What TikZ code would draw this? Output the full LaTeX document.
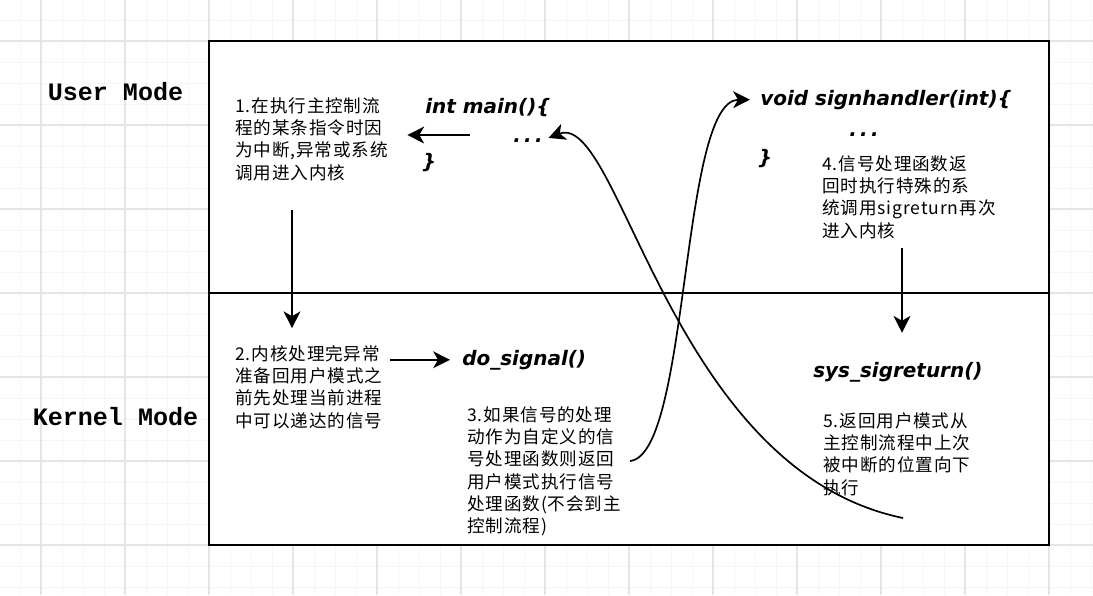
\documentclass[tikz,border=0pt]{standalone}
\usepackage{fontspec}
\usepackage{tikz}
\usetikzlibrary{arrows.meta}
\newfontfamily\cjk[LetterSpace=5]{Noto Sans CJK SC}
\newfontfamily\codefont{DejaVu Sans}
\newfontfamily\modefont{Liberation Mono}

\begin{document}
\begin{tikzpicture}[x=0.025cm, y=-0.025cm,
    note/.style={anchor=north west, inner sep=0pt, align=left,
        font=\cjk\fontsize{12.5pt}{15.9pt}\selectfont},
    code/.style={anchor=base west, inner sep=0pt,
        font=\codefont\bfseries\itshape\fontsize{14.2pt}{17pt}\selectfont},
    mode/.style={anchor=base, inner sep=0pt,
        font=\modefont\bfseries\fontsize{17.8pt}{20pt}\selectfont},
    arr/.style={-{Stealth[length=0.42cm, width=0.42cm, inset=0.12cm]}, line width=1.2pt},
    minorgrid/.style={draw=black!4, line width=0.6pt},
    majorgrid/.style={draw=black!10, line width=0.8pt}]
            \useasboundingbox (0,0) rectangle (1093,595);
            \foreach \x in {20,41,...,1092} \draw[minorgrid] (\x,0) -- (\x,595);
            \foreach \y in {20,41,...,594} \draw[minorgrid] (0,\y) -- (1093,\y);
            \foreach \x in {41,125,...,1093} \draw[majorgrid] (\x,0) -- (\x,595);
            \foreach \y in {41,125,...,594} \draw[majorgrid] (0,\y) -- (1093,\y);

            \draw[line width=1.5pt, fill=white] (209,41) rectangle (1049,545);
            \draw[line width=1.5pt] (209,293) -- (1049,293);

            \node[mode] (U) at (115.5,100) {User Mode};
            \node[mode] (K) at (115.5,425) {Kernel Mode};

            \node[note] (T1) at (235,97) {1.在执行主控制流\\程的某条指令时因\\为中断,异常或系统\\调用进入内核};
            \node[note] (T2) at (235,345) {2.内核处理完异常\\准备回用户模式之\\前先处理当前进程\\中可以递达的信号};
            \node[note] (T3) at (467,406) {3.如果信号的处理\\动作为自定义的信\\号处理函数则返回\\用户模式执行信号\\处理函数(不会到主\\控制流程)};
            \node[note] (T4) at (822,155) {4.信号处理函数返\\回时执行特殊的系\\统调用sigreturn再次\\进入内核};
            \node[note] (T5) at (823,412) {5.返回用户模式从\\主控制流程中上次\\被中断的位置向下\\执行};

            \node[code] (Main) at (425,113) {int main()\{};
            \node[code] (Dots1) at (513,142) {.\,.\,.};
            \node[code, anchor=center] (Close1) at (429,163) {\}};
            \node[code] (Hdl) at (760,105) {void signhandler(int)\{};
            \node[code] (Dots2) at (849,136) {.\,.\,.};
            \node[code, anchor=center] (Close2) at (765,159) {\}};
            \node[code] (Sig) at (462,365) {do\_signal()};
            \node[code] (Ret) at (813,377) {sys\_sigreturn()};

            \coordinate (A1) at (292,210);
            \coordinate (A2) at (470,135);
            \coordinate (A4) at (902,248);
            \coordinate (A3) at (630,461);
            \coordinate (A5) at (903,518);

            \path[arr]
                (A1) edge[shorten >=0.42cm] (A1 |- T2.north)
                (A2) edge[shorten >=0.48cm] (A2 -| T1.east)
                (Sig.west -| T2.east) edge[shorten <=0.2cm, shorten >=0.3cm] (Sig.west)
                (A4) edge[shorten >=0.72cm] (A4 |- Ret.north);
            \draw[arr, shorten >=0.25cm] (A3) .. controls (690,455) and (680,100) .. (Hdl.west);
            \draw[arr, shorten >=0.15cm] (A5) .. controls (670,470) and (620,110) .. (Dots1.east);
        \end{tikzpicture}
\end{document}
